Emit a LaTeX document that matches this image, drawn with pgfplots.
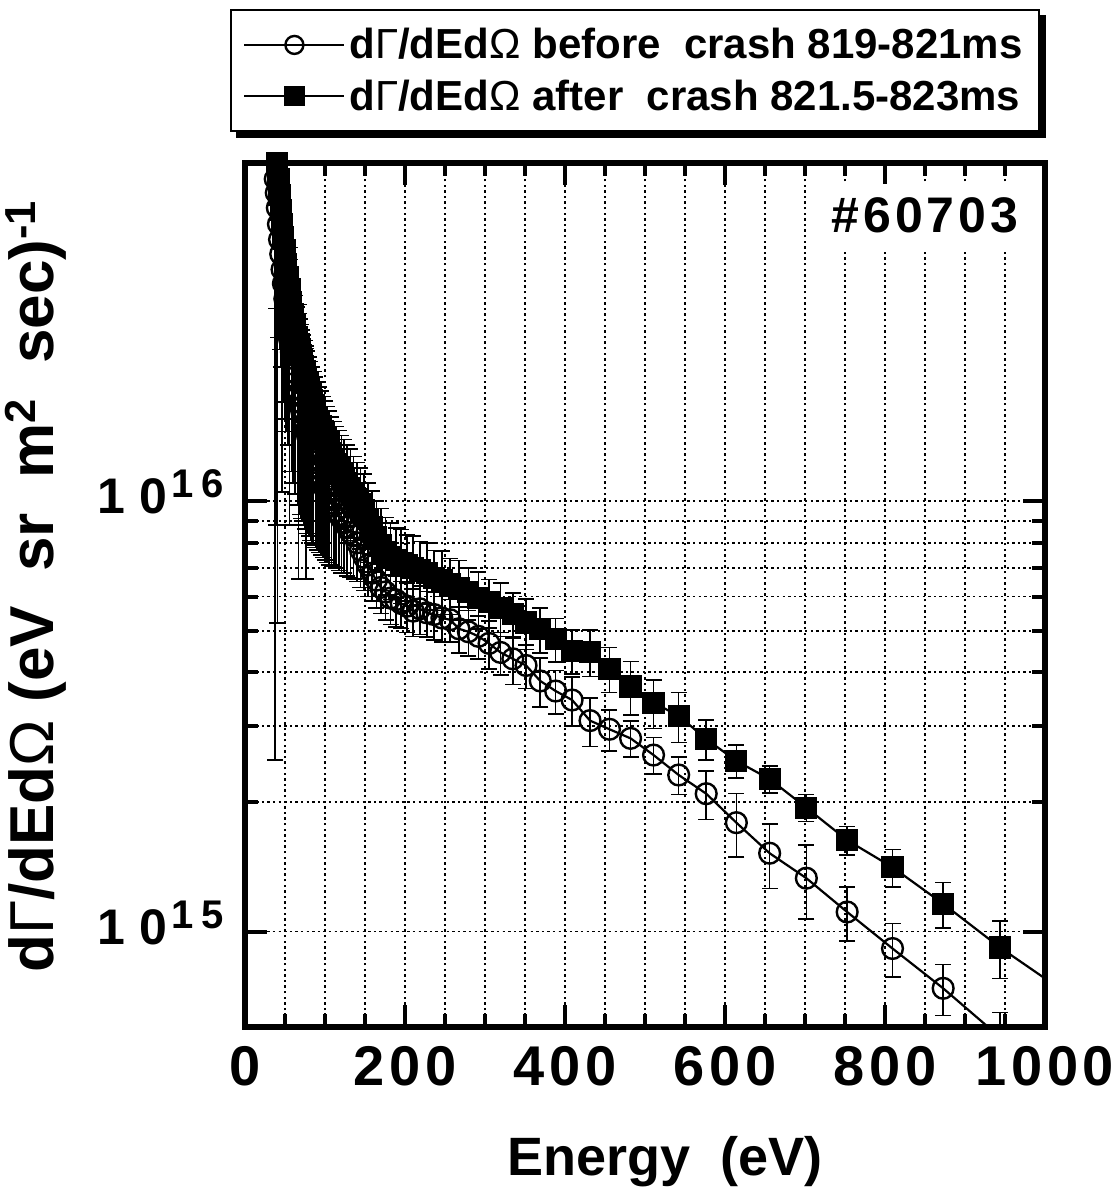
\documentclass[border=0pt]{standalone}
\usepackage{fontspec}
\setmainfont{Liberation Sans}
\newfontfamily\tickfont[LetterSpace=8]{Liberation Sans}
\usepackage{pgfplots}
\usepackage{pgfplotstable}
\pgfplotsset{compat=1.18}
\usetikzlibrary{backgrounds}

% values in units of 1e15 (eV sr m^2 sec)^-1
\pgfplotstableread{
E v e
943.8 0.568 0.08
872.7 0.738 0.10
809.4 0.913 0.13
752.7 1.11 0.16
701.7 1.33 0.26
655.8 1.52 0.26
614.2 1.79 0.30
576.5 2.09 0.27
542.1 2.31 0.23
510.7 2.57 0.25
482.0 2.81 0.27
455.6 2.95 0.32
431.3 3.09 0.40
408.9 3.45 0.45
388.3 3.62 0.42
369.1 3.82 0.50
351.3 4.15 0.48
334.8 4.30 0.55
319.4 4.45 0.50
305.1 4.67 0.60
291.7 4.85 0.55
279.2 4.97 0.60
267.4 5.05 0.62
256.4 5.30 0.60
246.1 5.35 0.65
236.3 5.45 0.70
227.2 5.50 0.66
218.5 5.62 0.72
210.3 5.55 0.70
202.6 5.70 0.75
195.3 5.78 0.72
188.4 5.90 0.80
181.9 5.95 0.78
175.7 6.15 0.85
169.8 6.30 0.82
164.2 6.55 0.90
158.8 6.80 0.95
153.7 7.10 1.10
148.9 7.40 1.20
144.3 7.70 1.40
139.9 8.00 1.50
135.7 8.30 1.70
131.7 8.45 1.80
127.8 8.70 2.00
124.1 8.90 2.10
120.6 9.10 2.30
117.3 9.30 2.40
114.0 9.50 2.50
110.9 9.75 2.70
107.9 9.90 2.80
105.1 10.1 3.00
102.3 10.4 3.20
99.7 10.7 3.40
97.2 11.0 3.60
94.7 11.3 3.80
92.4 11.6 4.00
90.1 12.0 4.30
87.9 12.3 4.50
85.8 12.6 4.70
83.8 13.0 5.00
81.8 13.4 5.30
79.9 13.8 5.50
78.1 14.2 5.80
76.3 14.6 8.00
74.6 15.0 6.40
73.0 15.5 6.70
71.4 16.0 7.00
69.9 16.5 7.40
68.4 17.0 7.70
66.9 17.6 11.0
65.5 18.2 8.40
62.8 19.4 9.00
60.3 20.8 9.80
58.0 22.2 10.5
55.7 23.8 15.0
53.6 25.5 12.0
51.6 27.5 13.0
49.8 29.5 14.0
48.0 32.0 15.0
46.3 34.5 24.0
44.7 37.5 17.0
43.2 40.5 18.0
41.8 44.0 20.0
40.4 48.0 42.8
39.1 52.0 24.0
37.8 56.0 53.5
}\before

\pgfplotstableread{
E v e
1024.0 0.725 0.12
943.8 0.918 0.14
872.7 1.16 0.14
809.4 1.41 0.14
752.7 1.63 0.125
701.7 1.94 0.14
655.8 2.26 0.16
614.2 2.49 0.22
576.5 2.80 0.30
542.1 3.17 0.42
510.7 3.40 0.44
482.0 3.71 0.53
455.6 4.08 0.49
431.3 4.46 0.55
408.9 4.49 0.52
388.3 4.78 0.55
369.1 5.04 0.60
351.3 5.22 0.70
334.8 5.46 0.65
319.4 5.65 0.80
305.1 5.82 0.75
291.7 5.95 0.90
279.2 6.15 0.85
267.4 6.28 1.00
256.4 6.40 0.95
246.1 6.55 1.10
236.3 6.62 1.05
227.2 6.80 1.20
218.5 6.90 1.15
210.3 7.00 1.30
202.6 7.10 1.25
195.3 7.18 1.40
188.4 7.30 1.35
181.9 7.40 1.50
175.7 7.60 1.55
169.8 7.90 1.70
164.2 8.25 1.75
158.8 8.70 1.85
153.7 9.10 1.90
148.9 9.55 2.00
144.3 9.85 2.10
139.9 10.1 2.20
135.7 10.4 2.30
131.7 10.7 2.50
127.8 11.0 2.50
124.1 11.3 2.60
120.6 11.6 2.60
117.3 11.9 2.70
114.0 12.2 2.70
110.9 12.5 2.80
107.9 12.9 2.80
105.1 13.3 2.90
102.3 13.7 2.90
99.7 14.1 3.00
97.2 14.5 3.00
94.7 14.9 3.10
92.4 15.3 3.10
90.1 15.7 3.20
87.9 16.2 3.20
85.8 16.7 3.30
83.8 17.2 3.30
81.8 17.7 3.40
79.9 18.2 3.40
78.1 18.8 3.50
76.3 19.4 3.50
74.6 20.0 3.60
73.0 20.6 3.70
71.4 21.2 3.80
69.9 21.8 3.90
68.4 22.5 4.00
66.9 23.2 4.10
65.5 24.0 4.20
62.8 25.6 4.40
60.3 27.2 4.70
58.0 29.0 5.00
55.7 31.0 5.40
53.6 33.2 5.80
51.6 35.6 6.20
49.8 38.2 6.80
48.0 41.0 7.40
46.3 44.0 8.20
44.7 47.5 9.00
43.2 51.5 10.0
41.8 56.0 11.0
40.4 61.0 12.0
39.1 67.0 58.2
37.8 74.0 16.0
}\after

\begin{document}
\begin{tikzpicture}
\path[use as bounding box] (-122.5pt,-84.5pt) rectangle (437pt,513.5pt);
\begin{axis}[
  at={(0,0)}, anchor=south west,
  scale only axis, width=400pt, height=432pt,
  xmin=0, xmax=1000,
  ymode=log, ymin=0.6, ymax=61,
  xtick={0,200,...,1000}, minor x tick num=3,
  ytick={1,10},
  yticklabels={1\hspace{7pt}0\hspace{2pt}\raisebox{8pt}{\fontsize{20}{20}\selectfont 1\hspace{4pt}5},
               1\hspace{7pt}0\hspace{2pt}\raisebox{8pt}{\fontsize{20}{20}\selectfont 1\hspace{4pt}6}},
  /pgf/number format/assume math mode=true,
  /pgf/number format/1000 sep={},
  xticklabel style={font=\tickfont\fontsize{28}{28}\selectfont\bfseries, yshift=-6pt},
  yticklabel style={font=\fontsize{25}{25}\selectfont\bfseries, xshift=-7pt, yshift=4.5pt},
  grid=both,
  grid style={black, line width=0.9pt, dash pattern=on 1.2pt off 1.6pt},
  major grid style={black, line width=0.9pt, dash pattern=on 1.2pt off 1.6pt},
  axis line style={line width=2.8pt},
  major tick length=11pt, minor tick length=6.5pt,
  every tick/.style={black, line width=2pt},
  xlabel={Energy\ \ (eV)},
  ylabel={d{\mdseries Γ}/dEd{\mdseries Ω} (eV\ \ sr\ \ m\textsuperscript{2}\ \ sec)\textsuperscript{-1}},
  every axis x label/.style={at={(axis description cs:0.525,-0.156)}, anchor=center,
    font=\fontsize{27}{27}\selectfont\bfseries},
  every axis y label/.style={at={(axis description cs:-0.262,0.51)}, anchor=center, rotate=90,
    font=\fontsize{31}{31}\selectfont\bfseries},
  legend style={name=leg, at={(axis description cs:0.4875,1.178)}, anchor=north,
    draw=black, line width=1pt, fill=white,
    font=\fontsize{21}{24}\selectfont\bfseries,
    inner xsep=6pt, inner ysep=7pt, row sep=5pt},
  legend cell align=left,
  legend image code/.code={%
    \draw[mark repeat=2, mark phase=2, #1, mark size=4.5pt]
      plot coordinates {(0pt,0pt) (25pt,0pt) (50pt,0pt)};},
]
\fill[white] (axis cs:731,38.2) rectangle (axis cs:975,54.6);
\node[font=\tickfont\fontsize{25}{25}\selectfont\bfseries] at (axis cs:850,46.2) {\#60703};

\addplot[black, line width=1.1pt, mark=o, mark size=5.2pt,
  mark options={line width=1.2pt, solid},
  error bars/.cd, y dir=both, y explicit,
  error bar style={line width=0.8pt},
  error mark options={rotate=90, mark size=4pt, line width=0.8pt}]
  table[x=E, y=v, y error=e] {\before};
\addlegendentry{d{\mdseries Γ}/dEd{\mdseries Ω} before\ \ crash 819-821ms}

\addplot[black, line width=1.1pt, mark=square*, mark size=5pt,
  mark options={solid},
  error bars/.cd, y dir=both, y explicit,
  error bar style={line width=0.8pt},
  error mark options={rotate=90, mark size=4pt, line width=0.8pt}]
  table[x=E, y=v, y error=e] {\after};
\addlegendentry{d{\mdseries Γ}/dEd{\mdseries Ω} after\ \ crash 821.5-823ms}
\end{axis}
\begin{scope}[on background layer]
\fill[black] ([shift={(3pt,-3pt)}]leg.south west) rectangle ([shift={(3pt,-3pt)}]leg.north east);
\end{scope}
\end{tikzpicture}
\end{document}
